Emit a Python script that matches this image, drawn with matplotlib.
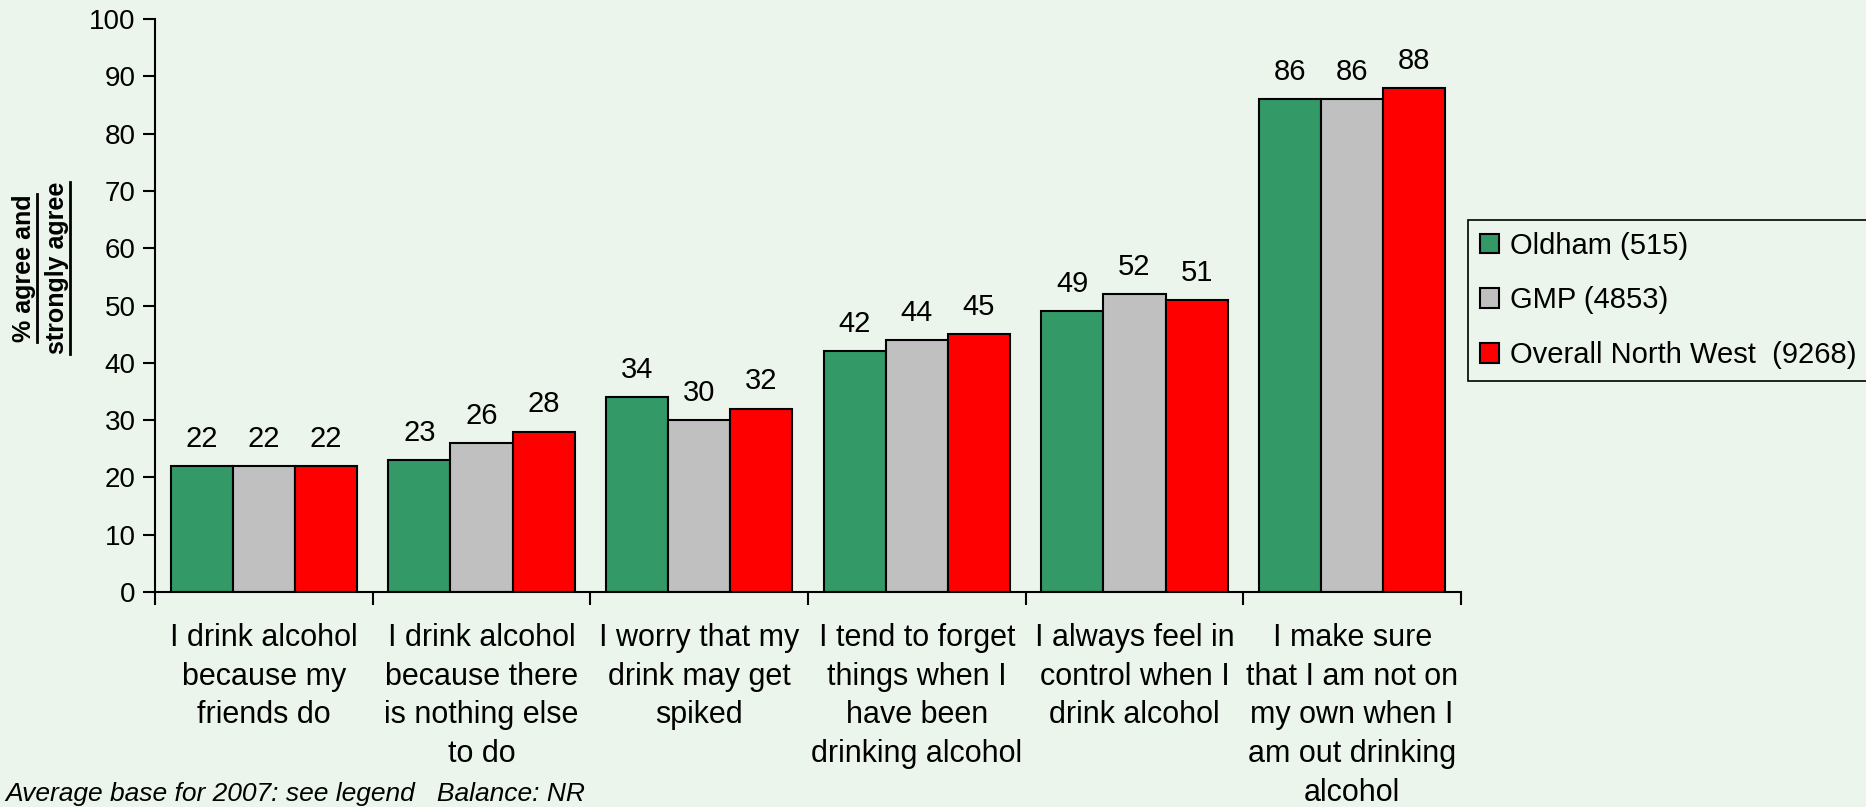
import matplotlib.pyplot as plt
import numpy as np

plt.rcParams['font.family'] = ['Liberation Sans', 'DejaVu Sans']

# categories and values
categories = [
    "I drink alcohol\nbecause my\nfriends do",
    "I drink alcohol\nbecause there\nis nothing else\nto do",
    "I worry that my\ndrink may get\nspiked",
    "I tend to forget\nthings when I\nhave been\ndrinking alcohol",
    "I always feel in\ncontrol when I\ndrink alcohol",
    "I make sure\nthat I am not on\nmy own when I\nam out drinking\nalcohol",
]
oldham = [22, 23, 34, 42, 49, 86]
gmp = [22, 26, 30, 44, 52, 86]
north_west = [22, 28, 32, 45, 51, 88]
series_names = ["Oldham (515)", "GMP (4853)", "Overall North West  (9268)"]
colors = ["#339966", "#C0C0C0", "#FF0000"]

bg = "#EBF5EB"
fs = 20
fig = plt.figure(figsize=(18.66, 8.07), dpi=100, facecolor=bg)
ax = fig.add_axes([155 / 1866, 1 - 592 / 807, (1461 - 155) / 1866, (592 - 19) / 807])
ax.set_facecolor(bg)

x = np.arange(len(categories))
w = 0.285
for i, (vals, name, c) in enumerate(zip([oldham, gmp, north_west], series_names, colors)):
    bars = ax.bar(x + (i - 1) * w, vals, w, color=c, edgecolor="black", linewidth=1.5, label=name)
    for b, v in zip(bars, vals):
        ax.text(b.get_x() + b.get_width() / 2, v + 2.3, str(v), ha="center", va="bottom", fontsize=21)

ax.set_xlim(-0.5, len(categories) - 0.5)
ax.set_ylim(0, 100)
ax.set_yticks(range(0, 101, 10))
ax.tick_params(axis="y", labelsize=fs, length=9, width=1.5, direction="out", pad=5)
ax.set_xticks(np.arange(-0.5, len(categories), 1))
ax.set_xticklabels([])
ax.tick_params(axis="x", length=9, width=1.5, direction="out")
for i, lab in enumerate(categories):
    ax.text(i, -5.4, lab, ha="center", va="top", fontsize=22, linespacing=1.38)

for s in ["top", "right"]:
    ax.spines[s].set_visible(False)
for s in ["left", "bottom"]:
    ax.spines[s].set_linewidth(1.5)

# y label: two bold lines, underlined
t1 = fig.text(24 / 1866, 1 - 268 / 807, "% agree and", rotation=90, ha="center", va="center",
              fontsize=18, fontweight="bold")
t2 = fig.text(57 / 1866, 1 - 268 / 807, "strongly agree", rotation=90, ha="center", va="center",
              fontsize=18, fontweight="bold")
fig.canvas.draw()
r = fig.canvas.get_renderer()
for t in (t1, t2):
    bb = t.get_window_extent(r).transformed(fig.transFigure.inverted())
    xl = bb.x1 + 1 / 1866
    fig.add_artist(plt.Line2D([xl, xl], [bb.y0, bb.y1], color="black", linewidth=2,
                              transform=fig.transFigure))

leg = ax.legend(loc="upper left", bbox_to_anchor=(1468 / 1866, 1 - 220 / 807),
                bbox_transform=fig.transFigure, fontsize=21, frameon=True, fancybox=False,
                edgecolor="black", facecolor=bg, handlelength=0.67, handleheight=0.67,
                handletextpad=0.37, labelspacing=0.92, borderpad=0.4, borderaxespad=0)
leg.get_frame().set_linewidth(1.2)
leg.get_frame().set_alpha(1)

fig.text(5 / 1866, 1 / 807, "Average base for 2007: see legend   Balance: NR",
         ha="left", va="bottom", fontsize=19, fontstyle="italic")

fig.savefig("out.png", dpi=100, facecolor=bg)
